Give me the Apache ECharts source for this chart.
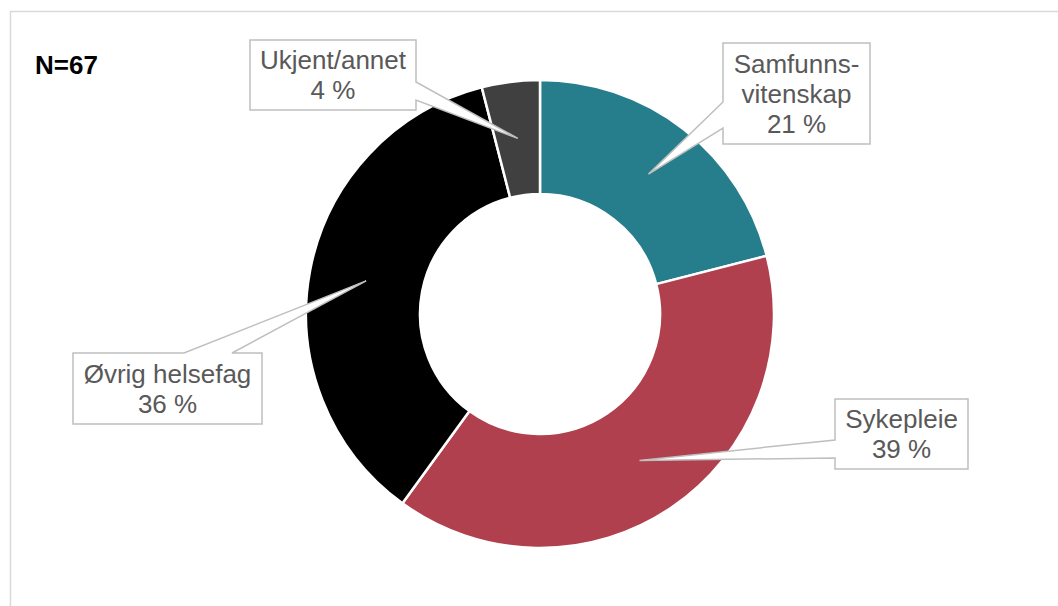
<!DOCTYPE html>
<html>
<head>
<meta charset="utf-8">
<script src="https://cdn.jsdelivr.net/npm/echarts@6/dist/echarts.min.js"></script>
<style>
  html, body { margin: 0; padding: 0; background: #fff; }
  #chart { width: 1058px; height: 606px; }
</style>
</head>
<body>
<div id="chart"></div>
<script>
// Fagbakgrunn, andel i prosent (N=67)
const categories = ['Samfunns-\nvitenskap', 'Sykepleie', 'Øvrig helsefag', 'Ukjent/annet'];
const percentValues = [21, 39, 36, 4];
const sliceColors = ['#267D8B', '#B0404D', '#000000', '#404040'];
const sampleLabel = 'N=67';

// Donut geometry (pixels)
const CX = 540, CY = 314, R_IN = 120, R_OUT = 234;
const R_TIP = (R_IN + R_OUT) / 2;

// Callout boxes: rectangle [x0, y0, x1, y1], side the pointer leaves from, and its base span
const callouts = [
  { box: [723, 43, 870, 144], side: 'left',  base: [102, 128] },
  { box: [835, 399, 968, 469], side: 'left', base: [440, 458] },
  { box: [73, 353, 262, 424], side: 'top',   base: [184, 232] },
  { box: [250, 40, 416, 110], side: 'right', base: [82, 100] }
];

const total = percentValues.reduce((a, b) => a + b, 0);

// pointer tip sits mid-ring at each slice's middle angle (clockwise from 12 o'clock)
function tipFor(i) {
  let before = 0;
  for (let k = 0; k < i; k++) before += percentValues[k];
  const theta = (before + percentValues[i] / 2) / total * 2 * Math.PI;
  return [CX + R_TIP * Math.sin(theta), CY - R_TIP * Math.cos(theta)];
}

function calloutPoints(c, tip) {
  const [x0, y0, x1, y1] = c.box;
  const pts = [[x0, y0]];
  if (c.side === 'top') pts.push([c.base[0], y0], tip, [c.base[1], y0]);
  pts.push([x1, y0]);
  if (c.side === 'right') pts.push([x1, c.base[0]], tip, [x1, c.base[1]]);
  pts.push([x1, y1]);
  if (c.side === 'bottom') pts.push([c.base[1], y1], tip, [c.base[0], y1]);
  pts.push([x0, y1]);
  if (c.side === 'left') pts.push([x0, c.base[1]], tip, [x0, c.base[0]]);
  return pts;
}

const graphics = [
  // outer frame, open to the right and bottom
  {
    type: 'polyline', silent: true, z: 1,
    shape: { points: [[10.5, 700], [10.5, 11.5], [1100, 11.5]] },
    style: { stroke: '#D9D9D9', lineWidth: 1.5, fill: null }
  },
  {
    type: 'text', left: 35, top: 52, z: 10,
    style: {
      text: sampleLabel, fill: '#000', font: 'bold 26px "Liberation Sans", Arial, sans-serif',
      textVerticalAlign: 'middle'
    }
  }
];

categories.forEach((name, i) => {
  const c = callouts[i];
  graphics.push({
    type: 'polygon', silent: true, z: 50,
    shape: { points: calloutPoints(c, tipFor(i)) },
    style: { fill: '#FFFFFF', stroke: '#BFBFBF', lineWidth: 1.5 }
  });
  graphics.push({
    type: 'text', silent: true, z: 60,
    x: (c.box[0] + c.box[2]) / 2,
    y: (c.box[1] + c.box[3]) / 2,
    style: {
      text: name + '\n' + percentValues[i] + ' %',
      fill: '#595959',
      font: '26px "Liberation Sans", Arial, sans-serif',
      lineHeight: 30,
      align: 'center',
      verticalAlign: 'middle'
    }
  });
});

const chart = echarts.init(document.getElementById('chart'), null, { renderer: 'svg' });
chart.setOption({
  animation: false,
  backgroundColor: '#FFFFFF',
  color: sliceColors,
  series: [{
    type: 'pie',
    center: [CX, CY],
    radius: [R_IN, R_OUT],
    startAngle: 90,
    clockwise: true,
    avoidLabelOverlap: false,
    label: { show: false },
    labelLine: { show: false },
    emphasis: { disabled: true },
    itemStyle: { borderColor: '#FFFFFF', borderWidth: 2.5 },
    data: categories.map((name, i) => ({ name: name, value: percentValues[i] }))
  }],
  graphic: graphics
});
</script>
</body>
</html>
